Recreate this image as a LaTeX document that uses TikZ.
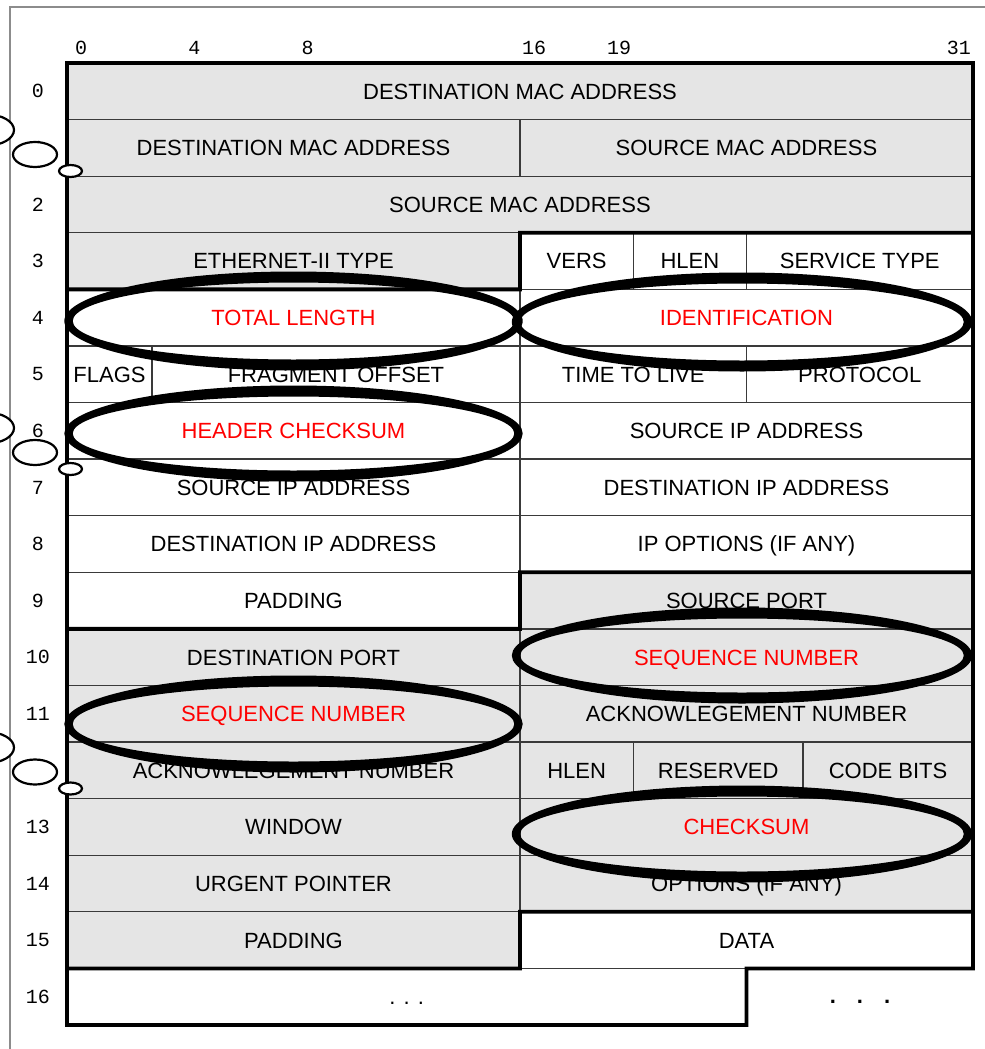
\documentclass[tikz,border=0pt]{standalone}
\usepackage{fontspec}
\setmainfont{Liberation Sans}
\newfontfamily\bitfont{Liberation Mono}
\definecolor{cellgray}{HTML}{E5E5E5}
\definecolor{gridline}{HTML}{3A3A3A}
\definecolor{framegray}{HTML}{8C8C8C}
\definecolor{hotred}{HTML}{FF0000}

\tikzset{
  cellbox/.style={draw=gridline, line width=1.3bp, rectangle, inner sep=0pt,
    outer sep=0pt, minimum height=56.588bp,
    font=\fontsize{22bp}{24bp}\selectfont, text height=15.8bp, text depth=0bp},
  plain/.style={fill=white},
  shaded/.style={fill=cellgray},
  hot/.style={text=hotred},
  boundary/.style={line width=3.8bp, line join=miter, line cap=rect},
  marker/.style={fill=black, even odd rule},
  ghost/.style={draw=black, fill=white, line width=2.2bp},
  numlabel/.style={font=\bitfont\fontsize{20bp}{22bp}\selectfont, inner sep=0pt},
}

% one header field: name, row, first bit, end bit, style, label
\newcommand\field[6]{%
  \pgfmathsetmacro\fxa{67+#3*28.3125}%
  \pgfmathsetmacro\fxb{67+#4*28.3125}%
  \pgfmathsetmacro\fw{\fxb-\fxa}%
  \pgfmathsetmacro\fxc{(\fxa+\fxb)/2}%
  \pgfmathsetmacro\fyc{63+(#2+0.5)*56.588}%
  \node[cellbox, #5, minimum width=\fw bp] (#1) at (\fxc,\fyc) {#6};%
}

% a hand-drawn highlight ring: centre x, centre y, x radius, y radius
% (the pen is heavier on the top and bottom than on the sides)
\newcommand\ring[4]{%
  \fill[marker] (#1,#2) ellipse [x radius=#3+4.2, y radius=#4+5.5]
                (#1,#2) ellipse [x radius=#3-4.2, y radius=#4-5.5];%
}

\begin{document}
\begin{tikzpicture}[x=1bp, y=-1bp]
  \useasboundingbox (0,0) rectangle (985,1049);
  \clip (0,0) rectangle (985,1049);

  % page frame
  \draw[framegray, line width=1.3bp] (10,1060) -- (10,7) -- (995,7);

  % bit numbers
  \foreach \b in {0,4,8,16,19,31}
    \node[numlabel] (bit\b) at ({67+(\b+0.5)*28.3125}, 48) {\b};
  % word numbers
  \foreach \r in {0,...,16}
    \node[numlabel] (word\r) at (38, {63+(\r+0.5)*56.588}) {\r};

  % Ethernet II header
  \field{etha}{0}{0}{32}{shaded}{DESTINATION MAC ADDRESS}
  \field{ethb}{1}{0}{16}{shaded}{DESTINATION MAC ADDRESS}
  \field{ethc}{1}{16}{32}{shaded}{SOURCE MAC ADDRESS}
  \field{ethd}{2}{0}{32}{shaded}{SOURCE MAC ADDRESS}
  \field{ethtype}{3}{0}{16}{shaded}{ETHERNET-II TYPE}

  % IP header
  \field{ipvers}{3}{16}{20}{plain}{VERS}
  \field{iphlen}{3}{20}{24}{plain}{HLEN}
  \field{iptos}{3}{24}{32}{plain}{SERVICE TYPE}
  \field{iplen}{4}{0}{16}{plain,hot}{TOTAL LENGTH}
  \field{ipid}{4}{16}{32}{plain,hot}{IDENTIFICATION}
  \field{ipflags}{5}{0}{3}{plain}{FLAGS}
  \field{ipfrag}{5}{3}{16}{plain}{FRAGMENT OFFSET}
  \field{ipttl}{5}{16}{24}{plain}{TIME TO LIVE}
  \field{ipproto}{5}{24}{32}{plain}{PROTOCOL}
  \field{ipcsum}{6}{0}{16}{plain,hot}{HEADER CHECKSUM}
  \field{ipsrca}{6}{16}{32}{plain}{SOURCE IP ADDRESS}
  \field{ipsrcb}{7}{0}{16}{plain}{SOURCE IP ADDRESS}
  \field{ipdsta}{7}{16}{32}{plain}{DESTINATION IP ADDRESS}
  \field{ipdstb}{8}{0}{16}{plain}{DESTINATION IP ADDRESS}
  \field{ipopt}{8}{16}{32}{plain}{IP OPTIONS (IF ANY)}
  \field{ippad}{9}{0}{16}{plain}{PADDING}

  % TCP header
  \field{tcpsport}{9}{16}{32}{shaded}{SOURCE PORT}
  \field{tcpdport}{10}{0}{16}{shaded}{DESTINATION PORT}
  \field{tcpseqa}{10}{16}{32}{shaded,hot}{SEQUENCE NUMBER}
  \field{tcpseqb}{11}{0}{16}{shaded,hot}{SEQUENCE NUMBER}
  \field{tcpacka}{11}{16}{32}{shaded}{ACKNOWLEGEMENT NUMBER}
  \field{tcpackb}{12}{0}{16}{shaded}{ACKNOWLEGEMENT NUMBER}
  \field{tcphlen}{12}{16}{20}{shaded}{HLEN}
  \field{tcpres}{12}{20}{26}{shaded}{RESERVED}
  \field{tcpcode}{12}{26}{32}{shaded}{CODE BITS}
  \field{tcpwin}{13}{0}{16}{shaded}{WINDOW}
  \field{tcpcsum}{13}{16}{32}{shaded,hot}{CHECKSUM}
  \field{tcpurg}{14}{0}{16}{shaded}{URGENT POINTER}
  \field{tcpopt}{14}{16}{32}{shaded}{OPTIONS (IF ANY)}
  \field{tcppad}{15}{0}{16}{shaded}{PADDING}

  % payload
  \field{data}{15}{16}{32}{plain}{DATA}
  \field{more}{16}{0}{24}{plain}{. . .}
  \node[font=\bfseries\fontsize{22bp}{24bp}\selectfont, inner sep=0pt, anchor=base]
    (trail) at (860,1003.5) {.\hspace{21bp}.\hspace{21bp}.};

  % protocol boundaries
  \draw[boundary] (etha.north west) -- (etha.north east) -- (data.south east)
    -- (more.north east) -- (more.south east) -- (more.south west) -- cycle;
  \draw[boundary] (ethtype.south west) -- (ethtype.south east)
    -- (ipvers.north west) -- (iptos.north east);
  \draw[boundary] (ippad.south west) -- (ippad.south east)
    -- (tcpsport.north west) -- (tcpsport.north east);
  \draw[boundary] (tcppad.south west) -- (tcppad.south east)
    -- (data.north west) -- (data.north east);

  % highlighted fields
  \ring{293.5}{321}{225}{44}
  \ring{742}{322}{226}{44}
  \ring{293.5}{433.5}{225}{42.5}
  \ring{742}{655.5}{226}{42.5}
  \ring{293.5}{724}{225}{43}
  \ring{742}{834}{226}{43}

  % small rings at the left margin
  \foreach \yc in {130,428,747.5} {
    \draw[ghost] (-13,\yc) ellipse [x radius=27, y radius=15.5];
    \draw[ghost] (35,\yc+24.5) ellipse [x radius=22, y radius=12.5];
    \draw[ghost] (70.5,\yc+41) ellipse [x radius=11.5, y radius=6];
  }
\end{tikzpicture}
\end{document}
